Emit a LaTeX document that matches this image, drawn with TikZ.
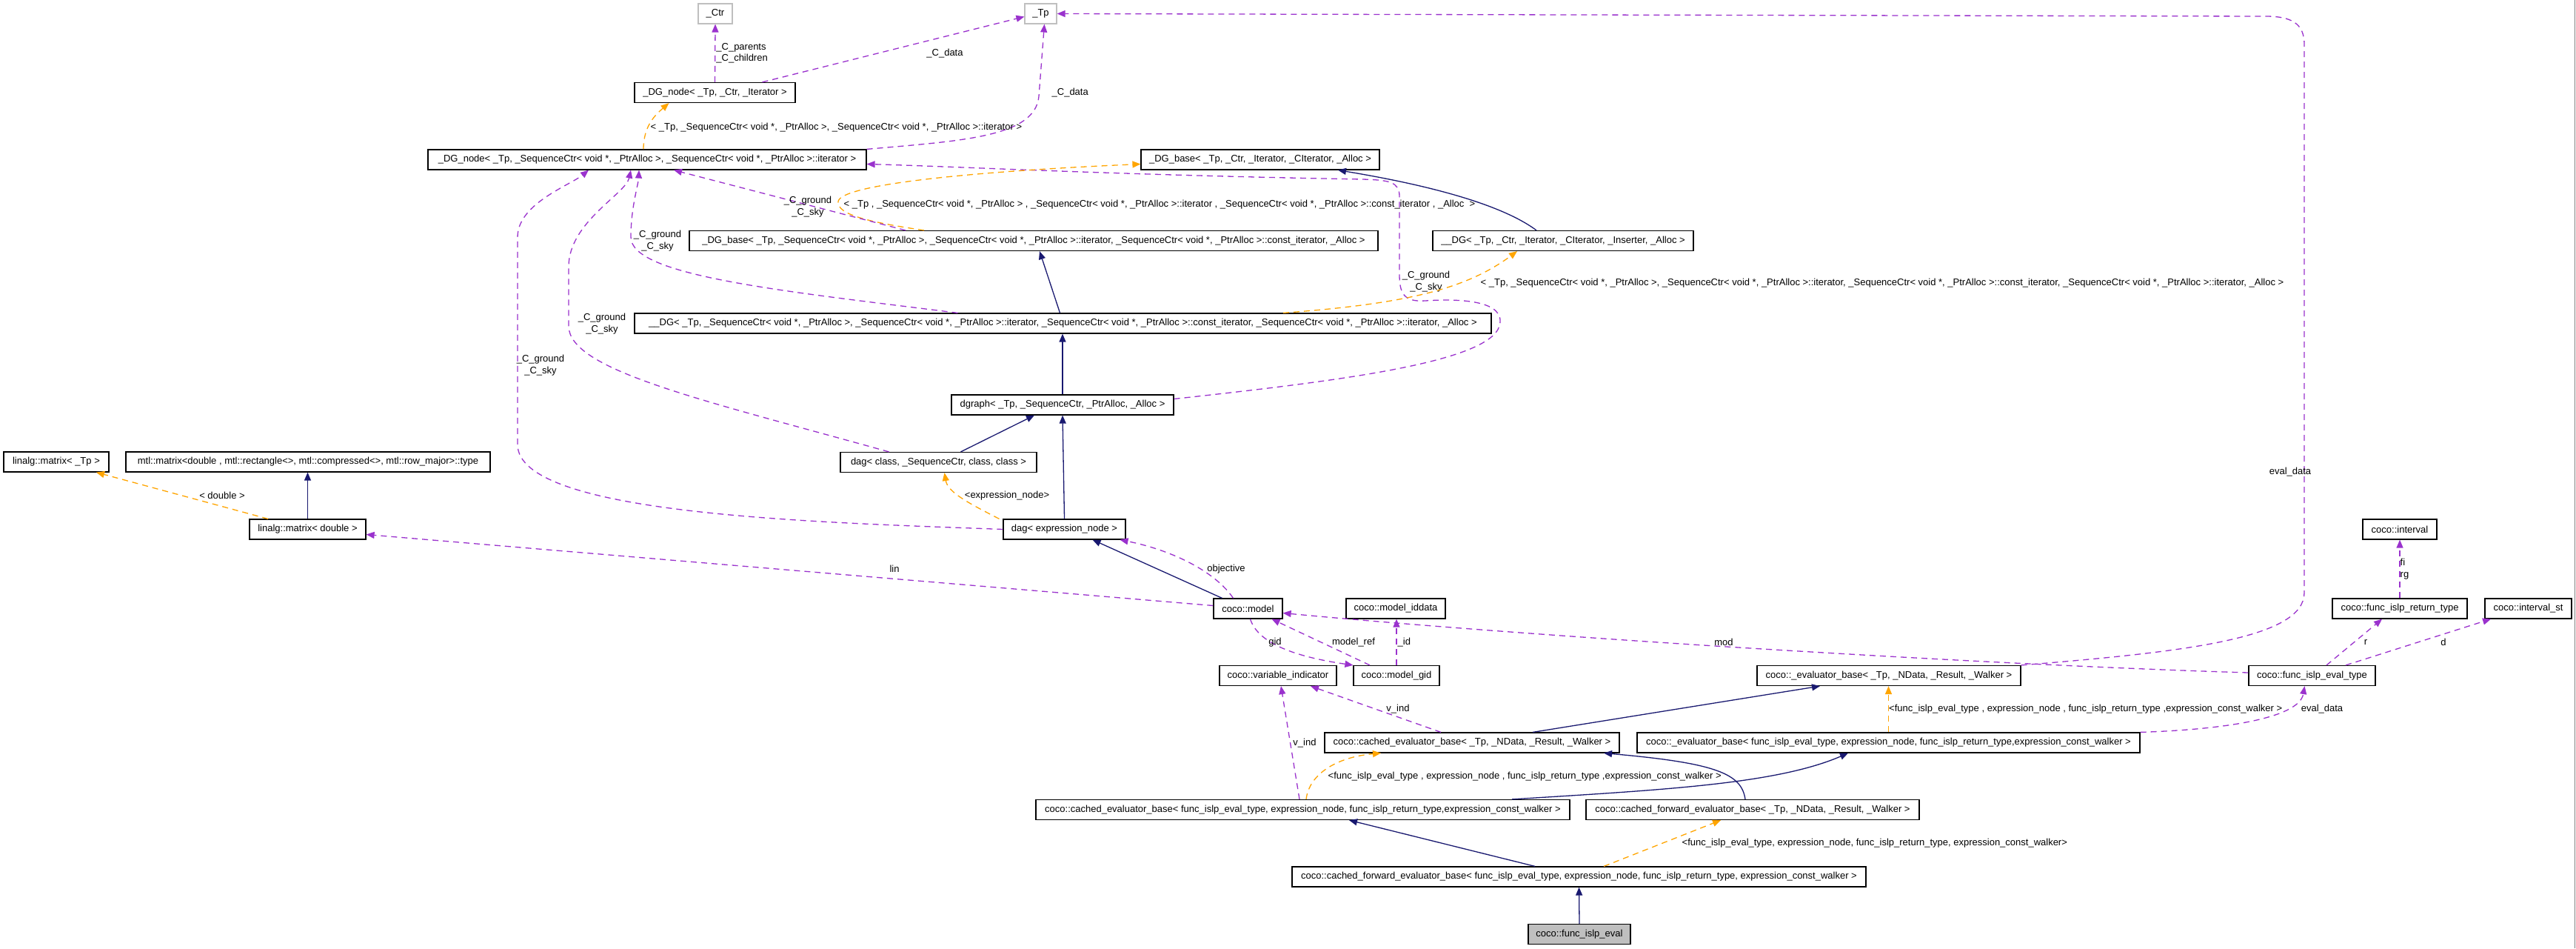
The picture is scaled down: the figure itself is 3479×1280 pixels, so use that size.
\documentclass[tikz,border=0pt]{standalone}
\usepackage{fontspec}
\setmainfont{Liberation Sans}
\usepackage{xcolor}
\usepackage{tikz}
\usetikzlibrary{arrows.meta}
\definecolor{inhblue}{RGB}{25,25,112}
\definecolor{usepurple}{RGB}{154,50,205}
\definecolor{tplorange}{RGB}{255,165,0}
\definecolor{boxgray}{RGB}{191,191,191}
\newcommand{\dgfont}{\fontsize{13}{15.5}\selectfont}

\begin{document}
\begin{tikzpicture}[x=1pt,y=-1pt,
  cls/.style={rectangle,draw=black,line width=1.2pt,minimum height=27pt,inner sep=0pt,font=\dgfont},
  ext/.style={cls,draw=boxgray},
  cur/.style={cls,fill=boxgray},
  lbl/.style={font=\dgfont,inner sep=0pt,align=center},
  inh/.style={-{Triangle[length=11pt,width=9pt]},draw=inhblue,line width=1.3pt},
  use/.style={-{Triangle[length=11pt,width=9pt]},draw=usepurple,line width=1.3pt,dash pattern=on 8pt off 6pt},
  tpl/.style={-{Triangle[length=11pt,width=9pt]},draw=tplorange,line width=1.3pt,dash pattern=on 8pt off 6pt}
]
\fill[white] (0,0) rectangle (3479,1280);
\useasboundingbox (0,0) rectangle (3479,1280);

\node[ext,minimum width=46pt] (ctr) at (966,18.5) {\_Ctr};
\node[ext,minimum width=43pt] (tp) at (1405.5,18.5) {\_Tp};
\node[cls,minimum width=217pt] (dgnode) at (965.5,125) {\_DG\_node< \_Tp, \_Ctr, \_Iterator >};
\node[cls,minimum width=592pt] (dgnodeL) at (874,215.5) {\_DG\_node< \_Tp, \_SequenceCtr< void *, \_PtrAlloc >, \_SequenceCtr< void *, \_PtrAlloc >::iterator >};
\node[cls,minimum width=322pt] (dgbase) at (1702,215.5) {\_DG\_base< \_Tp, \_Ctr, \_Iterator, \_CIterator, \_Alloc >};
\node[cls,minimum width=930pt] (dgbaseL) at (1396,325) {\_DG\_base< \_Tp, \_SequenceCtr< void *, \_PtrAlloc >, \_SequenceCtr< void *, \_PtrAlloc >::iterator, \_SequenceCtr< void *, \_PtrAlloc >::const\_iterator, \_Alloc >};
\node[cls,minimum width=352pt] (ddg) at (2111,325) {\_\_DG< \_Tp, \_Ctr, \_Iterator, \_CIterator, \_Inserter, \_Alloc >};
\node[cls,minimum width=1157pt] (ddgL) at (1435.5,436.5) {\_\_DG< \_Tp, \_SequenceCtr< void *, \_PtrAlloc >, \_SequenceCtr< void *, \_PtrAlloc >::iterator, \_SequenceCtr< void *, \_PtrAlloc >::const\_iterator, \_SequenceCtr< void *, \_PtrAlloc >::iterator, \_Alloc >};
\node[cls,minimum width=300pt] (dgraph) at (1435,546.5) {dgraph< \_Tp, \_SequenceCtr, \_PtrAlloc, \_Alloc >};
\node[cls,minimum width=265pt] (dagclass) at (1267.5,624) {dag< class, \_SequenceCtr, class, class >};
\node[cls,minimum width=165pt] (dagexpr) at (1437.5,714.5) {dag< expression\_node >};
\node[cls,minimum width=142pt] (linTp) at (76,623.5) {linalg::matrix< \_Tp >};
\node[cls,minimum width=492pt] (mtl) at (416,623.5) {mtl::matrix<double , mtl::rectangle<>, mtl::compressed<>, mtl::row\_major>::type};
\node[cls,minimum width=157pt] (linD) at (415.5,714.5) {linalg::matrix< double >};
\node[cls,minimum width=93pt] (model) at (1685.5,821.5) {coco::model};
\node[cls,minimum width=134pt] (iddata) at (1885,821.5) {coco::model\_iddata};
\node[cls,minimum width=158pt] (varind) at (1726,912) {coco::variable\_indicator};
\node[cls,minimum width=116pt] (gid) at (1886,912) {coco::model\_gid};
\node[cls,minimum width=356pt] (evbaseT) at (2551,912) {coco::\_evaluator\_base< \_Tp, \_NData, \_Result, \_Walker >};
\node[cls,minimum width=171pt] (evtype) at (3122.5,912) {coco::func\_islp\_eval\_type};
\node[cls,minimum width=100pt] (interval) at (3241,714.5) {coco::interval};
\node[cls,minimum width=182pt] (rettype) at (3241,821.5) {coco::func\_islp\_return\_type};
\node[cls,minimum width=117pt] (intst) at (3414.5,821.5) {coco::interval\_st};
\node[cls,minimum width=398pt] (cachedT) at (1988,1002.5) {coco::cached\_evaluator\_base< \_Tp, \_NData, \_Result, \_Walker >};
\node[cls,minimum width=679pt] (evbaseF) at (2550.5,1002.5) {coco::\_evaluator\_base< func\_islp\_eval\_type, expression\_node, func\_islp\_return\_type,expression\_const\_walker >};
\node[cls,minimum width=721pt] (cachedF) at (1759.5,1093) {coco::cached\_evaluator\_base< func\_islp\_eval\_type, expression\_node, func\_islp\_return\_type,expression\_const\_walker >};
\node[cls,minimum width=450pt] (fwdT) at (2367,1093) {coco::cached\_forward\_evaluator\_base< \_Tp, \_NData, \_Result, \_Walker >};
\node[cls,minimum width=775pt] (fwdF) at (2132.5,1183.5) {coco::cached\_forward\_evaluator\_base< func\_islp\_eval\_type, expression\_node, func\_islp\_return\_type, expression\_const\_walker >};
\node[cur,minimum width=138pt] (islp) at (2133,1261) {coco::func\_islp\_eval};

\draw[use] (dgnode.north) -- (ctr.south) node[lbl,midway,right,align=left,xshift=1pt] {\_C\_parents\\\_C\_children};
\draw[use] ([xshift=64pt]dgnode.north) -- ([yshift=-4pt]tp.west) node[lbl] at (1276,72) {\_C\_data};
\draw[use] (dgnodeL.north east) .. controls (1300,190) and (1398,185) .. (1403,130) -- ([xshift=5pt]tp.south) node[lbl,anchor=west] at (1420,125) {\_C\_data};
\draw[tpl] ([xshift=-5pt]dgnodeL.north) .. controls (869,170) and (885,155) .. ([xshift=-62pt]dgnode.south) node[lbl,anchor=west] at (878,172) {< \_Tp, \_SequenceCtr< void *, \_PtrAlloc >, \_SequenceCtr< void *, \_PtrAlloc >::iterator >};
\draw[use] ([yshift=8pt]dgraph.east) .. controls (1800,515) and (2010,490) .. (2025,440) .. controls (2035,405) and (1970,403) .. (1925,406) .. controls (1895,408) and (1890,395) .. (1890,370) -- (1890,265) .. controls (1890,245) and (1875,243) .. (1840,242) .. controls (1500,236) and (1300,225) .. ([yshift=-6pt]dgnodeL.east) node[lbl] at (1926,380) {\_C\_ground\\\_C\_sky};
\draw[tpl] ([xshift=-148pt]dgbaseL.north) .. controls (1175,300) and (1130,290) .. (1132,272) .. controls (1135,250) and (1300,232) .. ([yshift=-6pt]dgbase.west) node[lbl,anchor=west] at (1139,276) {< \_Tp , \_SequenceCtr< void *, \_PtrAlloc > , \_SequenceCtr< void *, \_PtrAlloc >::iterator , \_SequenceCtr< void *, \_PtrAlloc >::const\_iterator , \_Alloc \ >};
\draw[use] ([xshift=-173pt]dgbaseL.north) -- ([xshift=36pt]dgnodeL.south) node[lbl] at (1091,279) {\_C\_ground\\\_C\_sky};
\draw[use] ([xshift=-142pt]ddgL.north) .. controls (1050,392) and (852,372) .. (852,320) .. controls (852,280) and (862,250) .. ([xshift=-11pt]dgnodeL.south) node[lbl] at (888,325) {\_C\_ground\\\_C\_sky};
\draw[use] ([xshift=-67pt]dagclass.north) .. controls (950,540) and (768,500) .. (768,440) -- (768,360) .. controls (768,300) and (845,262) .. ([xshift=-22pt]dgnodeL.south) node[lbl] at (813,437) {\_C\_ground\\\_C\_sky};
\draw[use] (dagexpr.west) .. controls (1100,705) and (699,695) .. (699,600) -- (699,320) .. controls (699,275) and (770,250) .. ([xshift=-79pt]dgnodeL.south) node[lbl] at (730,493) {\_C\_ground\\\_C\_sky};
\draw[inh] ([xshift=-36pt]ddg.north) .. controls (2020,270) and (1900,245) .. ([xshift=105pt]dgbase.south);
\draw[inh] ([xshift=-4pt]ddgL.north) -- ([xshift=8pt]dgbaseL.south);
\draw[tpl] ([xshift=297.5pt]ddgL.north) .. controls (1900,410) and (1980,390) .. ([xshift=-62pt]ddg.south) node[lbl,anchor=west] at (1999,382) {< \_Tp, \_SequenceCtr< void *, \_PtrAlloc >, \_SequenceCtr< void *, \_PtrAlloc >::iterator, \_SequenceCtr< void *, \_PtrAlloc >::const\_iterator, \_SequenceCtr< void *, \_PtrAlloc >::iterator, \_Alloc >};
\draw[inh] (dgraph.north) -- (dgraph.north |- ddgL.south);
\draw[inh] ([xshift=30pt]dagclass.north) -- ([xshift=-38pt]dgraph.south);
\draw[inh] (dagexpr.north) -- (dgraph.south);
\draw[tpl] ([xshift=-88pt]dagexpr.north) .. controls (1310,680) and (1280,665) .. ([xshift=8pt]dagclass.south) node[lbl] at (1360,669) {<expression\_node>};
\draw[inh] ([xshift=-35pt]model.north) -- ([xshift=38pt]dagexpr.south);
\draw[use] ([xshift=-20pt]model.north) .. controls (1640,770) and (1580,742) .. ([xshift=75pt]dagexpr.south) node[lbl] at (1656,768) {objective};
\draw[use] ([yshift=4pt]model.west) -- ([yshift=-7pt]linD.east) node[lbl] at (1208,768) {lin};
\draw[inh] (linD.north) -- (linD.north |- mtl.south);
\draw[tpl] ([xshift=-53.5pt]linD.north) -- ([xshift=54pt]linTp.south) node[lbl] at (300,669) {< double >};
\draw[use] ([xshift=3pt]model.south) .. controls (1700,872) and (1760,888) .. (gid.north west) node[lbl] at (1722,867) {gid};
\draw[use] ([xshift=-36pt]gid.north) -- ([xshift=32pt]model.south) node[lbl] at (1828,867) {model\_ref};
\draw[use] (gid.north) -- (gid.north |- iddata.south) node[lbl,midway,right,xshift=1pt] {\_id};
\draw[use] ([yshift=4pt]evtype.west) .. controls (2700,898) and (2100,862) .. ([yshift=-6pt]model.east) node[lbl] at (2328,867) {mod};
\draw[use] ([xshift=-42pt]cachedT.north) -- ([xshift=44pt]varind.south) node[lbl] at (1888,957) {v\_ind};
\draw[use] ([xshift=-4.5pt]cachedF.north) -- ([xshift=4pt]varind.south) node[lbl] at (1762,1003) {v\_ind};
\draw[inh] ([xshift=82pt]cachedT.north) -- ([xshift=-93pt]evbaseT.south);
\draw[tpl] (evbaseF.north) -- (evbaseF.north |- evbaseT.south) node[lbl,midway,right] {<func\_islp\_eval\_type , expression\_node , func\_islp\_return\_type ,expression\_const\_walker >};
\draw[use] (evbaseF.north east) .. controls (3000,985) and (3105,970) .. ([xshift=-10pt]evtype.south) node[lbl] at (3136,957) {eval\_data};
\draw[use] ([xshift=19.5pt]evtype.north) -- ([xshift=-24pt]rettype.south) node[lbl] at (3195,867) {r};
\draw[use] ([xshift=45.5pt]evtype.north) -- ([xshift=-50.5pt]intst.south) node[lbl] at (3300,867) {d};
\draw[use] (rettype.north) -- (interval.south) node[lbl,midway,right,align=left] {fi\\rg};
\draw[use] (evbaseT.north east) .. controls (2950,880) and (3112,862) .. (3112,800) -- (3112,60) .. controls (3112,32) and (3095,22) .. (3060,22) -- (tp.east) node[lbl] at (3093,637) {eval\_data};
\draw[tpl] ([xshift=4.5pt]cachedF.north) .. controls (1768,1045) and (1805,1022) .. ([xshift=-123pt]cachedT.south) node[lbl,anchor=west] at (1793,1048) {<func\_islp\_eval\_type , expression\_node , func\_islp\_return\_type ,expression\_const\_walker >};
\draw[inh] ([xshift=282.5pt]cachedF.north) .. controls (2250,1066) and (2400,1058) .. ([xshift=-54.5pt]evbaseF.south);
\draw[inh] ([xshift=-10pt]fwdT.north) .. controls (2352,1045) and (2320,1030) .. ([xshift=178pt]cachedT.south);
\draw[inh] ([xshift=-59.5pt]fwdF.north) -- ([xshift=62.5pt]cachedF.south);
\draw[tpl] ([xshift=33.5pt]fwdF.north) -- ([xshift=-43pt]fwdT.south) node[lbl,anchor=west] at (2271,1138) {<func\_islp\_eval\_type, expression\_node, func\_islp\_return\_type, expression\_const\_walker>};
\draw[inh] (islp.north) -- (fwdF.south);

\draw[gray,line width=1pt] (3477,0) -- (3477,1280);
\end{tikzpicture}
\end{document}
